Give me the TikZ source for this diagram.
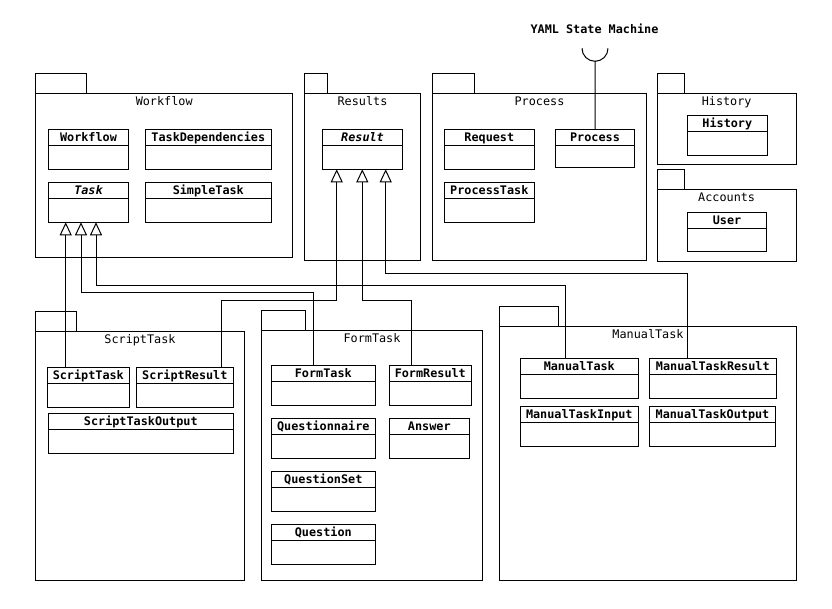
\documentclass[tikz,border=0pt]{standalone}
\usepackage{fontspec}
\setmonofont{DejaVu Sans Mono}
\usetikzlibrary{arrows.meta}

\tikzset{
  umlline/.style={line width=1pt},
  pkgbox/.style={draw, line width=1pt, inner sep=0pt, outer sep=0pt},
  classbox/.style={draw, line width=1pt, inner sep=0pt, outer sep=0pt},
  classname/.style={font=\ttfamily\bfseries\fontsize{11.8}{14}\selectfont, inner sep=0pt},
  pkglabel/.style={font=\ttfamily\fontsize{11.8}{14}\selectfont, inner sep=0pt},
  gen/.style={line width=1pt, -{Triangle[open, width=12pt, length=13pt]}},
}

% class box: name, x1, y1, x2, y2, title
\newcommand\umlclass[6]{%
  \node[classbox, minimum width={#4-#2}, minimum height={#5-#3}] (#1) at ({(#2+#4)/2},{(#3+#5)/2}) {};
  \draw[umlline] ([yshift=-16pt]#1.north west) -- ([yshift=-16pt]#1.north east);
  \node[classname, anchor=base] (#1-name) at ({(#2+#4)/2},{#3+11.8}) {#6};
}

% package: name, x1, y1, x2, y2, tab width, title
\newcommand\umlpackage[7]{%
  \node[pkgbox, minimum width={#4-#2}, minimum height={#5-#3}] (#1) at ({(#2+#4)/2},{(#3+#5)/2}) {};
  \draw[umlline] (#1.north west) rectangle ([xshift=#6pt, yshift=20pt]#1.north west);
  \node[pkglabel, anchor=base] (#1-label) at ({(#2+#4)/2},{#3+12.2}) {#7};
}

\begin{document}
\begin{tikzpicture}[x=1pt, y=-1pt]
\useasboundingbox (0,0) rectangle (832,609);

% packages
\umlpackage{pWorkflow}{35.7}{93.3}{292.7}{257.3}{51}{Workflow}
\umlpackage{pResults}{304.3}{93.3}{420.7}{260.7}{23.4}{Results}
\umlpackage{pProcess}{432.3}{93.3}{646.7}{260.7}{42}{Process}
\umlpackage{pHistory}{657.3}{93.3}{796}{164.3}{27}{History}
\umlpackage{pAccounts}{657.3}{189.3}{796}{261.3}{27}{Accounts}
\umlpackage{pScriptTask}{35.7}{331.3}{244.3}{580.3}{40.6}{ScriptTask}
\umlpackage{pFormTask}{261.3}{330.3}{482.7}{580.3}{44.4}{FormTask}
\umlpackage{pManualTask}{499.7}{326.3}{796.3}{580.3}{58.6}{ManualTask}

% classes
\umlclass{cWorkflow}{48.3}{129.3}{128.7}{169.3}{Workflow}
\umlclass{cTaskDep}{145.3}{129.3}{271.3}{169.3}{TaskDependencies}
\umlclass{cTask}{48.3}{182.3}{128.7}{222.3}{\itshape Task}
\umlclass{cSimpleTask}{145.3}{182.3}{271.3}{222.3}{SimpleTask}
\umlclass{cResult}{322.3}{129.3}{402.7}{169.3}{\itshape Result}
\umlclass{cRequest}{444.3}{129.3}{534.3}{169.3}{Request}
\umlclass{cProcess}{555.7}{129.3}{634.3}{168}{Process}
\umlclass{cProcessTask}{444.3}{182.3}{534.3}{222.3}{ProcessTask}
\umlclass{cHistory}{687.3}{115.7}{767.3}{155.3}{History}
\umlclass{cUser}{687.3}{212.3}{766.7}{251.3}{User}
\umlclass{cScriptTask}{47.3}{367.3}{129.3}{407.3}{ScriptTask}
\umlclass{cScriptResult}{136.3}{367.3}{233.3}{407.3}{ScriptResult}
\umlclass{cScriptTaskOutput}{48.3}{413.3}{233.3}{453.3}{ScriptTaskOutput}
\umlclass{cFormTask}{271.3}{365.7}{375.3}{405.3}{FormTask}
\umlclass{cFormResult}{389.3}{365.7}{471.3}{405.3}{FormResult}
\umlclass{cQuestionnaire}{271.3}{418.7}{375.3}{458.3}{Questionnaire}
\umlclass{cAnswer}{389.3}{418.7}{469.3}{458.3}{Answer}
\umlclass{cQuestionSet}{271.3}{471.7}{375.3}{511.3}{QuestionSet}
\umlclass{cQuestion}{271.3}{524.3}{375.3}{564.3}{Question}
\umlclass{cManualTask}{520.3}{358.3}{638.3}{398}{ManualTask}
\umlclass{cManualTaskResult}{649.3}{358.3}{776.3}{398}{ManualTaskResult}
\umlclass{cManualTaskInput}{520.3}{406.3}{638.3}{446}{ManualTaskInput}
\umlclass{cManualTaskOutput}{649.3}{406.3}{775.7}{446}{ManualTaskOutput}

% required interface of Process
\node[classname, anchor=base] (yaml) at (594.5,34) {YAML State Machine};
\coordinate (sock) at (595,61.3);
\draw[umlline] (cProcess.north -| sock) -- (sock) arc[start angle=270, end angle=180, radius=13pt];
\draw[umlline] (sock) arc[start angle=270, end angle=360, radius=13pt];

% route columns and levels
\coordinate (tA) at (65.7,0);
\coordinate (tB) at (81,0);
\coordinate (tC) at (96,0);
\coordinate (rA) at (336.7,0);
\coordinate (rB) at (362.3,0);
\coordinate (rC) at (385.7,0);
\coordinate (xFT) at (313.6,0);
\coordinate (xMT) at (565.7,0);
\coordinate (xSR) at (221.7,0);
\coordinate (xFR) at (411,0);
\coordinate (xMR) at (687.5,0);
\coordinate (lvA) at (0,273.3);
\coordinate (lvB) at (0,285.3);
\coordinate (lvC) at (0,292.3);
\coordinate (lvD) at (0,300.3);

% generalisations towards Task
\draw[gen] (cScriptTask.north -| tA) -- (cTask.south -| tA);
\draw[gen] (cFormTask.north -| xFT) -- (xFT |- lvC) -- (tB |- lvC) -- (cTask.south -| tB);
\draw[gen] (cManualTask.north -| xMT) -- (xMT |- lvB) -- (tC |- lvB) -- (cTask.south -| tC);

% generalisations towards Result
\draw[gen] (cScriptResult.north -| xSR) -- (xSR |- lvD) -- (rA |- lvD) -- (cResult.south -| rA);
\draw[gen] (cFormResult.north -| xFR) -- (xFR |- lvD) -- (rB |- lvD) -- (cResult.south -| rB);
\draw[gen] (cManualTaskResult.north -| xMR) -- (xMR |- lvA) -- (rC |- lvA) -- (cResult.south -| rC);
\end{tikzpicture}
\end{document}
